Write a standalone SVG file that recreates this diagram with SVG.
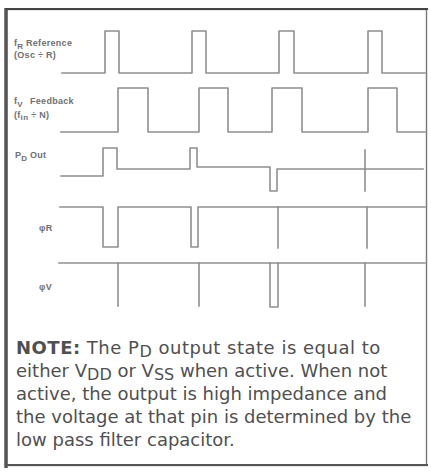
<svg xmlns="http://www.w3.org/2000/svg" width="431" height="474" viewBox="0 0 431 474">
<style>
.w{fill:none;stroke:#8f8f8f;stroke-width:1.6;stroke-linejoin:round;stroke-linecap:square}
.lb{font-family:"Liberation Sans",Arial,sans-serif;font-weight:bold;font-size:9px;fill:#707070;letter-spacing:0.3px}
.sb{font-size:8px}
.nt{font-family:"DejaVu Sans",Verdana,sans-serif;font-size:18px;fill:#505050}
.ns{font-size:16px}
</style>
<rect x="0" y="0" width="431" height="474" fill="#ffffff"/>
<g id="frame">
<rect x="6.5" y="9.5" width="420" height="456" fill="none" stroke="#777" stroke-width="1.4"/>
<line x1="6" y1="8" x2="6" y2="468" stroke="#555" stroke-width="3.5"/>
<line x1="6" y1="9" x2="428" y2="9" stroke="#444" stroke-width="2.2"/>
<line x1="6" y1="465" x2="428" y2="465" stroke="#555" stroke-width="2.2"/>
</g>
<g id="fR">
<text class="lb" x="14" y="46">f<tspan class="sb" dy="3">R</tspan><tspan dy="-3" x="26">Reference</tspan></text>
<text class="lb" x="14" y="58">(Osc ÷ R)</text>
<path class="w" d="M62,73 H105 V31 H119 V73 H192 V31 H206 V73 H279 V31 H294 V73 H368 V31 H382 V73 H425"/>
</g>
<g id="fV">
<text class="lb" x="14" y="104">f<tspan class="sb" dy="3">V</tspan><tspan dy="-3" x="30">Feedback</tspan></text>
<text class="lb" x="14" y="118">(f<tspan class="sb" dy="2">in</tspan><tspan dy="-2"> ÷ N)</tspan></text>
<path class="w" d="M61,132 H118 V88 H148 V132 H199 V88 H228 V132 H272 V88 H302 V132 H368 V88 H397 V132 H425"/>
</g>
<g id="PD">
<text class="lb" x="15" y="158">P<tspan class="sb" dy="3">D</tspan><tspan dy="-3" x="30">Out</tspan></text>
<path class="w" d="M61,176 H103 V148 H117 V169 H190 V148 H197 V167 H270 V191 H277 V169 H423"/>
<path class="w" d="M365,150 V191"/>
</g>
<g id="phiR">
<text class="lb" x="39" y="231">φR</text>
<path class="w" d="M60,207 H103 V247 H118 V207 H191 V247 H198 V207 H425"/>
<path class="w" d="M278,207 V248 M367,207 V248"/>
</g>
<g id="phiV">
<text class="lb" x="39" y="290">φV</text>
<path class="w" d="M59,263 H425"/>
<path class="w" d="M118,263 V306 M199,263 V306 M270,263 V307 H278 V263 M365,263 V306"/>
</g>
<g id="note" class="nt">
<text x="16" y="354" letter-spacing="0.5"><tspan font-weight="bold">NOTE:</tspan> The P<tspan class="ns" dy="3">D</tspan><tspan dy="-3"> output state is equal to</tspan></text>
<text x="16" y="377">either V<tspan class="ns" dy="3">DD</tspan><tspan dy="-3"> or V</tspan><tspan class="ns" dy="3">SS</tspan><tspan dy="-3"> when active. When not</tspan></text>
<text x="16" y="400">active, the output is high impedance and</text>
<text x="16" y="423">the voltage at that pin is determined by the</text>
<text x="16" y="446">low pass filter capacitor.</text>
</g>
</svg>
